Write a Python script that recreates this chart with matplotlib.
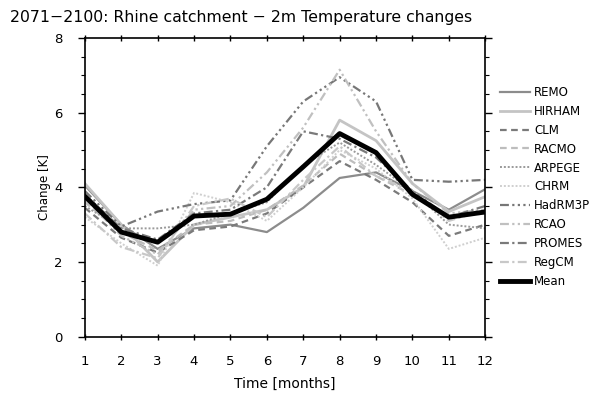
import numpy as np
import matplotlib
matplotlib.use("Agg")
from matplotlib import pyplot as plt

# monthly 2m temperature change [K], 2071-2100, Rhine catchment
months = list(range(1, 13))
remo    = [4.05, 3.0, 2.35, 2.9, 3.0, 2.8, 3.45, 4.25, 4.4, 3.9, 3.4, 3.95]
hirham  = [4.1, 3.0, 2.0, 3.0, 3.2, 3.4, 4.0, 5.8, 5.25, 4.1, 3.35, 3.75]
clm     = [3.45, 2.65, 2.25, 2.85, 2.95, 3.3, 4.0, 4.7, 4.2, 3.6, 2.7, 3.0]
racmo   = [3.6, 2.8, 2.3, 3.0, 3.1, 3.4, 4.05, 4.9, 4.3, 3.8, 3.2, 3.3]
arpege  = [3.5, 2.9, 2.9, 3.0, 3.3, 3.6, 4.6, 5.2, 4.6, 3.9, 3.0, 2.9]
chrm    = [3.2, 2.5, 1.9, 3.85, 3.6, 3.1, 4.0, 5.0, 4.5, 3.7, 2.35, 2.65]
hadrm3p = [3.9, 2.95, 3.35, 3.55, 3.65, 5.1, 6.3, 6.95, 6.3, 4.2, 4.15, 4.2]
rcao    = [3.7, 2.7, 2.2, 3.4, 3.5, 4.4, 5.6, 7.15, 5.5, 4.1, 3.3, 3.4]
promes  = [3.8, 2.9, 2.6, 3.3, 3.4, 4.0, 5.5, 5.3, 4.8, 3.9, 3.2, 3.5]
regcm   = [3.3, 2.4, 2.1, 3.5, 3.7, 3.2, 4.2, 5.1, 4.3, 3.9, 3.1, 3.4]
mean    = [3.76, 2.8, 2.53, 3.23, 3.28, 3.68, 4.55, 5.44, 4.93, 3.81, 3.2, 3.34]

labels = ['REMO', 'HIRHAM', 'CLM', 'RACMO', 'ARPEGE', 'CHRM', 'HadRM3P',
          'RCAO', 'PROMES', 'RegCM', 'Mean']
series = [remo, hirham, clm, racmo, arpege, chrm, hadrm3p, rcao, promes, regcm, mean]

dashdot3 = (0, (4, 1.5, 1, 1.5, 1, 1.5, 1, 1.5))
dashdot2 = (0, (4, 1.5, 1, 1.5, 1, 1.5))
styles = [
    ('#8c8c8c', '-', 1.6),
    ('#c4c4c4', '-', 2.0),
    ('#7a7a7a', (0, (3, 2)), 1.6),
    ('#bdbdbd', (0, (3, 2)), 1.6),
    ('#9a9a9a', (0, (1, 1)), 1.4),
    ('#cfcfcf', (0, (1, 1)), 1.4),
    ('#777777', dashdot3, 1.6),
    ('#c0c0c0', dashdot2, 1.6),
    ('#7a7a7a', (0, (4, 1.5, 1, 1.5)), 1.6),
    ('#c8c8c8', (0, (4, 1.5, 1, 1.5)), 1.6),
    ('black', '-', 3.5),
]

plt.rcParams['font.family'] = 'DejaVu Sans'

fig = plt.figure(figsize=(6.15, 3.96), dpi=100)
ax = fig.add_axes([0.138, 0.150, 0.651, 0.754])

handles = []
for vals, (c, ls, lw), lab in zip(series, styles, labels):
    h, = ax.plot(months, vals, color=c, linestyle=ls, linewidth=lw, label=lab)
    handles.append(h)

ax.set_xlim(1, 12)
ax.set_ylim(0, 8)
ax.set_xticks(months)
ax.set_yticks([0, 2, 4, 6, 8])
ax.set_yticks(np.arange(0, 8.01, 0.5), minor=True)
ax.tick_params(axis='both', which='major', direction='out', length=5, width=1,
               labelsize=9.5, top=True, right=True)
ax.tick_params(axis='y', which='minor', direction='out', length=3, width=0.8,
               right=True)
ax.tick_params(axis='x', which='both', top=True, direction='inout', pad=11)
ax.tick_params(axis='y', which='major', pad=11)
for s in ax.spines.values():
    s.set_linewidth(1.2)

ax.set_xlabel('Time [months]', fontsize=10, labelpad=6)
ax.set_ylabel('Change [K]', fontsize=8.5, labelpad=2)

fig.text(0.016, 0.955, '2071\u22122100: Rhine catchment \u2212 2m Temperature changes',
         fontsize=11.3, ha='left', va='center')

fig.legend(handles=handles, loc='upper left', bbox_to_anchor=(0.805, 0.795),
           frameon=False, fontsize=8.5, handlelength=2.6, handletextpad=0.3,
           labelspacing=0.5, borderaxespad=0)

fig.savefig('out.png', dpi=100)
